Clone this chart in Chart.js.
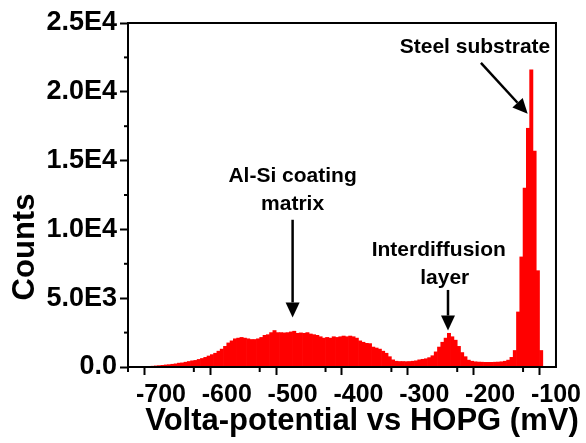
<!DOCTYPE html>
<html>
<head>
<meta charset="utf-8">
<script src="https://cdn.jsdelivr.net/npm/chart.js@4.4.1/dist/chart.umd.min.js"></script>
<style>
  html, body { margin: 0; padding: 0; background: #fff; }
  #wrap { width: 586px; height: 443px; }
</style>
</head>
<body>
<div id="wrap"><canvas id="histChart" width="586" height="443"></canvas></div>
<script>
// Bin centres (mV), 5 mV wide bins
var voltages = [
  -717.5, -712.5, -707.5, -702.5, -697.5, -692.5, -687.5, -682.5, -677.5, -672.5,
  -667.5, -662.5, -657.5, -652.5, -647.5, -642.5, -637.5, -632.5, -627.5, -622.5,
  -617.5, -612.5, -607.5, -602.5, -597.5, -592.5, -587.5, -582.5, -577.5, -572.5,
  -567.5, -562.5, -557.5, -552.5, -547.5, -542.5, -537.5, -532.5, -527.5, -522.5,
  -517.5, -512.5, -507.5, -502.5, -497.5, -492.5, -487.5, -482.5, -477.5, -472.5,
  -467.5, -462.5, -457.5, -452.5, -447.5, -442.5, -437.5, -432.5, -427.5, -422.5,
  -417.5, -412.5, -407.5, -402.5, -397.5, -392.5, -387.5, -382.5, -377.5, -372.5,
  -367.5, -362.5, -357.5, -352.5, -347.5, -342.5, -337.5, -332.5, -327.5, -322.5,
  -317.5, -312.5, -307.5, -302.5, -297.5, -292.5, -287.5, -282.5, -277.5, -272.5,
  -267.5, -262.5, -257.5, -252.5, -247.5, -242.5, -237.5, -232.5, -227.5, -222.5,
  -217.5, -212.5, -207.5, -202.5, -197.5, -192.5, -187.5, -182.5, -177.5, -172.5,
  -167.5, -162.5, -157.5, -152.5, -147.5, -142.5, -137.5, -132.5, -127.5, -122.5
];

var counts = [
  30, 60, 80, 100, 120, 150, 170, 200, 230, 280,
  300, 350, 400, 450, 480, 550, 620, 700, 800, 900,
  1000, 1150, 1300, 1500, 1750, 1900, 2050, 2100, 2150, 2100,
  2050, 2000, 2000, 2050, 2150, 2300, 2350, 2500, 2650, 2500,
  2500, 2480, 2500, 2550, 2600, 2450, 2480, 2450, 2500, 2400,
  2350, 2300, 2200, 2100, 2150, 2100, 2200, 2150, 2200, 2250,
  2200, 2250, 2200, 2100, 1900, 1800, 1720, 1700, 1450, 1380,
  1300, 1150, 1000, 750, 520, 420, 400, 400, 390, 400,
  420, 450, 520, 560, 600, 680, 820, 1100, 1450, 1800,
  2100, 2450, 2200, 1950, 1500, 1050, 750, 500, 420, 380,
  360, 350, 340, 340, 340, 350, 360, 380, 420, 500,
  700, 1200, 4000, 8000, 13000, 17350, 21600, 15700, 7000, 1200
];

var xTitle = 'Volta-potential vs HOPG (mV)';
var yTitle = 'Counts';

// Annotation texts and arrows, in data coordinates
var labelTexts = ['Steel substrate', 'Al-Si coating', 'matrix', 'Interdiffusion', 'layer'];
var labelX = [-223, -500, -500, -278, -269];
var labelY = [23250, 13900, 11800, 8500, 6450];
var arrows = [
  { from: [-214, 22100], to: [-143, 18400] },
  { from: [-500, 10700], to: [-500, 3600] },
  { from: [-264, 5600], to: [-264, 2650] }
];

var FONT = "'Liberation Sans', Arial, sans-serif";

function sciLabel(v) {
  if (v === 0) return '0.0';
  var e = Math.floor(Math.log10(v));
  var m = v / Math.pow(10, e);
  return m.toFixed(1) + 'E' + e;
}

function drawArrow(ctx, x1, y1, x2, y2) {
  var ang = Math.atan2(y2 - y1, x2 - x1);
  var headLen = 15, headW = 7;
  var bx = x2 - headLen * Math.cos(ang);
  var by = y2 - headLen * Math.sin(ang);
  ctx.beginPath();
  ctx.moveTo(x1, y1);
  ctx.lineTo(bx, by);
  ctx.lineWidth = 2.5;
  ctx.strokeStyle = '#000';
  ctx.stroke();
  ctx.beginPath();
  ctx.moveTo(x2, y2);
  ctx.lineTo(bx + headW * Math.sin(ang), by - headW * Math.cos(ang));
  ctx.lineTo(bx - headW * Math.sin(ang), by + headW * Math.cos(ang));
  ctx.closePath();
  ctx.fillStyle = '#000';
  ctx.fill();
}

var framePlugin = {
  id: 'frameAndNotes',
  afterDraw: function(chart) {
    var ctx = chart.ctx;
    var area = chart.chartArea;
    var xs = chart.scales.x, ys = chart.scales.y;
    ctx.save();

    // box round the plot
    ctx.strokeStyle = '#000';
    ctx.lineWidth = 2;
    ctx.strokeRect(area.left, area.top, area.right - area.left, area.bottom - area.top);

    // minor ticks
    xs.ticks.forEach(function(t) {
      if (t.value % 100 !== 0) {
        var px = xs.getPixelForValue(t.value);
        ctx.beginPath();
        ctx.moveTo(px, area.bottom);
        ctx.lineTo(px, area.bottom + 5);
        ctx.stroke();
      }
    });
    ys.ticks.forEach(function(t) {
      if (t.value % 5000 !== 0) {
        var py = ys.getPixelForValue(t.value);
        ctx.beginPath();
        ctx.moveTo(area.left, py);
        ctx.lineTo(area.left - 4, py);
        ctx.stroke();
      }
    });

    // axis titles (the originals sit off-centre)
    ctx.fillStyle = '#000';
    ctx.textAlign = 'center';
    ctx.textBaseline = 'middle';
    ctx.font = 'bold 31px ' + FONT;
    ctx.fillText(xTitle, (area.left + area.right) / 2 + 20, 421);
    ctx.save();
    ctx.translate(25, (area.top + area.bottom) / 2 + 52);
    ctx.rotate(-Math.PI / 2);
    ctx.fillText(yTitle, 0, 0);
    ctx.restore();

    // annotation texts
    ctx.font = 'bold 21px ' + FONT;
    for (var i = 0; i < labelTexts.length; i++) {
      ctx.fillText(labelTexts[i], xs.getPixelForValue(labelX[i]), ys.getPixelForValue(labelY[i]));
    }

    // arrows
    arrows.forEach(function(a) {
      drawArrow(ctx,
        xs.getPixelForValue(a.from[0]), ys.getPixelForValue(a.from[1]),
        xs.getPixelForValue(a.to[0]), ys.getPixelForValue(a.to[1]));
    });
    ctx.restore();
  }
};

var points = voltages.map(function(v, i) { return { x: v, y: counts[i] }; });

new Chart(document.getElementById('histChart').getContext('2d'), {
  type: 'bar',
  data: {
    datasets: [{
      data: points,
      backgroundColor: '#ff0000',
      borderColor: '#ff0000',
      borderWidth: 0,
      barPercentage: 1.0,
      categoryPercentage: 1.0,
      grouped: false
    }]
  },
  options: {
    responsive: false,
    animation: false,
    devicePixelRatio: 1,
    layout: { padding: { top: 23, right: 28, left: 0, bottom: 0 } },
    plugins: { legend: { display: false }, tooltip: { enabled: false } },
    scales: {
      x: {
        type: 'linear',
        min: -750,
        max: -100,
        offset: false,
        afterFit: function(scale) { scale.height = 76; },
        border: { display: false },
        grid: {
          drawOnChartArea: false,
          tickLength: 8,
          tickWidth: 2,
          tickColor: function(c) { return c.tick && c.tick.value % 100 === 0 ? '#000' : 'rgba(0,0,0,0)'; }
        },
        ticks: {
          stepSize: 50,
          autoSkip: false,
          maxRotation: 0,
          color: '#000',
          padding: 5,
          font: { family: FONT, weight: 'bold', size: 25 },
          callback: function(v) { return v % 100 === 0 ? String(v) : ''; }
        },
        title: { display: false }
      },
      y: {
        min: 0,
        max: 25000,
        afterFit: function(scale) { scale.width = 128; },
        border: { display: false },
        grid: {
          drawOnChartArea: false,
          tickLength: 8,
          tickWidth: 2,
          tickColor: function(c) { return c.tick && c.tick.value % 5000 === 0 ? '#000' : 'rgba(0,0,0,0)'; }
        },
        ticks: {
          stepSize: 2500,
          autoSkip: false,
          color: '#000',
          padding: 3,
          font: { family: FONT, weight: 'bold', size: 27 },
          callback: function(v) { return v % 5000 === 0 ? sciLabel(v) : ''; }
        },
        title: { display: false }
      }
    }
  },
  plugins: [framePlugin]
});
</script>
</body>
</html>
